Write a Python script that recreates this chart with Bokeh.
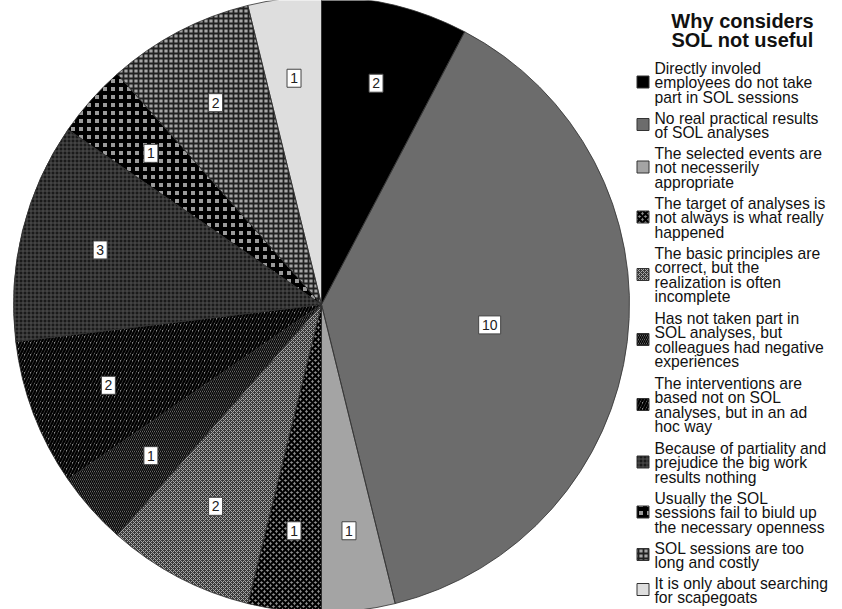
import math
from bokeh.plotting import figure
from bokeh.models import ColumnDataSource, Label
from bokeh.core.properties import value
from bokeh.embed import file_html
from bokeh.resources import INLINE

# ---- data ----
categories = [
    "Directly involed\nemployees do not take\npart in SOL sessions",
    "No real practical results\nof SOL analyses",
    "The selected events are\nnot necesserily\nappropriate",
    "The target of analyses is\nnot always is what really\nhappened",
    "The basic principles are\ncorrect, but the\nrealization is often\nincomplete",
    "Has not taken part in\nSOL analyses, but\ncolleagues had negative\nexperiences",
    "The interventions are\nbased not on SOL\nanalyses, but in an ad\nhoc way",
    "Because of partiality and\nprejudice the big work\nresults nothing",
    "Usually the SOL\nsessions fail to biuld up\nthe necessary openness",
    "SOL sessions are too\nlong and costly",
    "It is only about searching\nfor scapegoats",
]
counts = [2, 10, 1, 1, 2, 1, 2, 3, 1, 2, 1]
title_text = "Why considers\nSOL not useful"

# ---- styles ----
fill_colors = ["#000000", "#6c6c6c", "#a4a4a4", "#8c8c8c", "#3a3a3a", "#8a8a8a",
               "#8a8a8a", "#1a1a1a", "#9a9a9a", "#a6a6a6", "#dedede"]
hatch_patterns = [" ", " ", " ", "diagonal_cross", "diagonal_cross", "left_diagonal_line",
                  "right_diagonal_line", "cross", "cross", "cross", " "]
hatch_colors = ["#000000", "#000000", "#000000", "#000000", "#a8a8a8", "#000000",
                "#000000", "#505050", "#000000", "#202020", "#000000"]
hatch_scales = [1, 1, 1, 6, 4, 4, 6, 4, 8, 5, 1]
hatch_weights = [1, 1, 1, 2.2, 1, 1.4, 2.4, 1, 4, 1.8, 1]

W, H = 842, 609
cx, cy, R = 321, H - 304, 308

total = sum(counts)
starts, ends, lx, ly, labels, bw = [], [], [], [], [], []
cum = 0
maxc = max(counts)
for c in counts:
    a0 = math.pi / 2 - 2 * math.pi * cum / total
    cum += c
    a1 = math.pi / 2 - 2 * math.pi * cum / total
    starts.append(a0)
    ends.append(a1)
    mid = (a0 + a1) / 2
    f = 0.55 if c == maxc else 0.74
    lx.append(cx + f * R * math.cos(mid))
    ly.append(cy + f * R * math.sin(mid))
    labels.append(str(c))
    bw.append(6 + 8 * len(str(c)))

# legend layout (ranges map 1:1 to pixels)
LINE, GAP, TOP = 15, 5, 59
icon_x, icon_y, text_x, text_y = [], [], [], []
ypos = TOP
for cat in categories:
    n = cat.count("\n") + 1
    h = n * LINE
    icon_x.append(642.5)
    icon_y.append(H - (ypos + h / 2))
    text_x.append(654)
    text_y.append(H - ypos)
    ypos += h + GAP

src = ColumnDataSource(dict(
    start=starts, end=ends, fill=fill_colors, hp=hatch_patterns, hc=hatch_colors,
    hs=hatch_scales, hw=hatch_weights, cat=categories,
    ix=icon_x, iy=icon_y, tx=text_x, ty=text_y))
lab_src = ColumnDataSource(dict(x=lx, y=ly, t=labels, w=bw))

p = figure(width=W, height=H, x_range=(0, W), y_range=(0, H),
           output_backend="svg", toolbar_location=None, min_border=0)
p.axis.visible = False
p.grid.visible = False
p.outline_line_color = None

# pie: fill layer, then hatch layer with outline
p.wedge(x=cx, y=cy, radius=R, start_angle="start", end_angle="end",
        direction="clock", fill_color="fill", line_color=None, source=src)
p.wedge(x=cx, y=cy, radius=R, start_angle="start", end_angle="end",
        direction="clock", fill_alpha=0, hatch_pattern="hp",
        hatch_color="hc", hatch_scale="hs", hatch_weight="hw",
        line_color="#303030", line_width=0.8, source=src)

# value labels
p.rect(x="x", y="y", width="w", height=18, width_units="screen", height_units="screen",
       fill_color="white", line_color="#444444", line_width=1, source=lab_src)
p.text(x="x", y="y", text="t", text_align="center", text_baseline="middle",
       text_font=value("Liberation Sans"), text_font_size="14px", text_color="#222222",
       source=lab_src)

# legend
p.rect(x="ix", y="iy", width=12, height=12, width_units="screen", height_units="screen",
       fill_color="fill", line_color=None, source=src)
p.rect(x="ix", y="iy", width=12, height=12, width_units="screen", height_units="screen",
       fill_alpha=0, hatch_pattern="hp", hatch_color="hc", hatch_scale="hs",
       hatch_weight="hw", line_color="#333333", line_width=1, source=src)
p.text(x="tx", y="ty", text="cat", text_align="left", text_baseline="top",
       text_font=value("Liberation Sans"), text_font_size="15.7px",
       text_line_height=0.86, text_color="#111111", source=src)

p.add_layout(Label(x=742, y=H - 9, text=title_text, text_align="center",
                   text_baseline="top", text_font="Liberation Sans",
                   text_font_style="bold", text_font_size="20px",
                   text_line_height=0.9, text_color="#111111"))

open("out.html", "w").write(file_html(p, INLINE))
